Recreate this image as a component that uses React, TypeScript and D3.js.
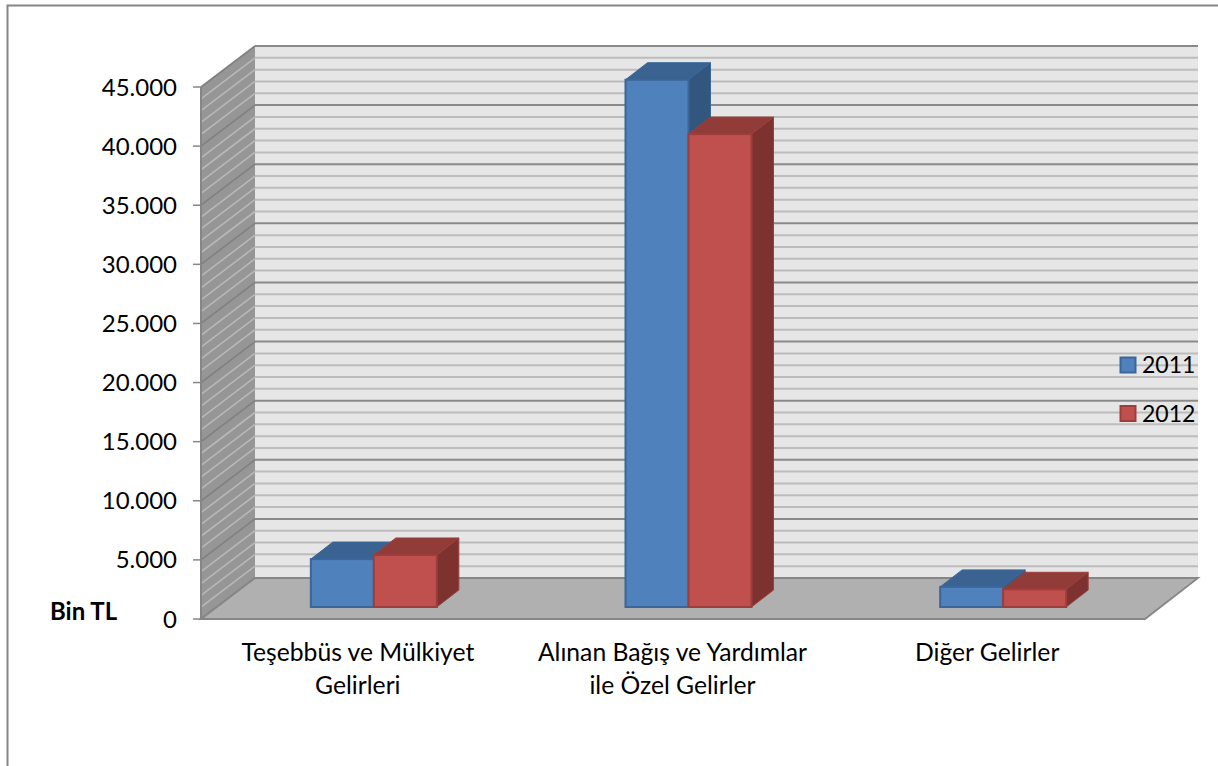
import React from "react";
import * as d3 from "d3";

const categories = ["Teşebbüs ve Mülkiyet|Gelirleri", "Alınan Bağış ve Yardımlar|ile Özel Gelirler", "Diğer Gelirler"];
const seriesNames = ["2011", "2012"];
const values2011 = [4050, 44600, 1700];
const values2012 = [4400, 40000, 1500];
const majorTicks = [0, 5000, 10000, 15000, 20000, 25000, 30000, 35000, 40000, 45000];
const minorTicks = d3.range(0, 45001, 1000);
const FONT = "Lato, 'Open Sans', sans-serif";

const frontLeft = 201, frontRight = 1145, frontBottom = 619, frontTop = 87;
const depthX = 54, depthY = 41;
const barInsetY = 12, barInsetX = 15.5, barDepthX = 22, barDepthY = 17;

const y = d3.scaleLinear().domain([0, 45000]).range([frontBottom, frontTop]);
const x = d3.scaleBand<number>().domain([0, 1, 2]).range([frontLeft, frontRight]);
const barW = 63;
const fmt = (v: number) => (v === 0 ? "0" : d3.format(",")(v).replace(/,/g, "."));
const pts = (p: number[][]) => p.map((q) => q.join(",")).join(" ");

const palette = [
  { front: "#4f81bd", top: "#3b6391", side: "#33567f", edge: "#3a6699" },
  { front: "#c0504d", top: "#923c39", side: "#7d3230", edge: "#9c3f3c" },
];

function Bar({ x0, v, c }: { x0: number; v: number; c: typeof palette[0] }) {
  const base = y(0) - barInsetY;
  const top = base - (y(0) - y(v));
  const x1 = x0 + barW;
  return (
    <g>
      <polygon points={pts([[x0, top], [x0 + barDepthX, top - barDepthY], [x1 + barDepthX, top - barDepthY], [x1, top]])} fill={c.top} stroke={c.edge} strokeWidth={1} strokeLinejoin="round" />
      <polygon points={pts([[x1, top], [x1 + barDepthX, top - barDepthY], [x1 + barDepthX, base - barDepthY], [x1, base]])} fill={c.side} stroke={c.edge} strokeWidth={1} strokeLinejoin="round" />
      <rect x={x0} y={top} width={barW} height={base - top} fill={c.front} stroke={c.edge} strokeWidth={2} />
    </g>
  );
}

export default function App() {
  const wallBack = frontLeft + depthX;
  const wallRight = frontRight + depthX - 1;
  return (
    <svg width={1218} height={766} style={{ position: "fixed", left: 0, top: 0, background: "#fff" }}>
      <path d="M7.5,766V5.5H1218" fill="none" stroke="#868686" strokeWidth={2} />
      <rect x={wallBack} y={y(45000) - depthY} width={wallRight - wallBack} height={y(0) - y(45000)} fill="#e6e6e6" />
      <polygon points={pts([[frontLeft, y(0)], [frontLeft, y(45000)], [wallBack, y(45000) - depthY], [wallBack, y(0) - depthY]])} fill="#969696" />
      {minorTicks.map((t) => {
        const major = t % 5000 === 0;
        return (
          <g key={t} stroke={major ? "#8a8a8a" : "#bcbcbc"} strokeWidth={2} fill="none">
            <line x1={wallBack} x2={wallRight} y1={y(t) - depthY} y2={y(t) - depthY} />
            <line x1={frontLeft} x2={wallBack} y1={y(t)} y2={y(t) - depthY} stroke={major ? "#808080" : "#b8b8b8"} strokeWidth={1.6} />
          </g>
        );
      })}
      <polygon points={pts([[frontLeft, y(0)], [wallBack, y(0) - depthY], [wallRight, y(0) - depthY], [frontRight, y(0)]])} fill="#b0b0b0" stroke="#868686" strokeWidth={1.8} />
      <line x1={frontLeft} x2={frontLeft} y1={y(0)} y2={y(45000)} stroke="#868686" strokeWidth={2} />
      {majorTicks.map((t) => (
        <g key={t}>
          <line x1={frontLeft - 8} x2={frontLeft} y1={y(t)} y2={y(t)} stroke="#868686" strokeWidth={1.5} />
          <text x={frontLeft - 24} y={y(t) + 8.5} textAnchor="end" fontFamily={FONT} fontSize={24} fill="#000">{fmt(t)}</text>
        </g>
      ))}
      {categories.map((_, i) => {
        const cx = x(i)! + x.bandwidth() / 2 + barInsetX;
        return (
          <g key={i}>
            <Bar x0={cx - barW} v={values2011[i]} c={palette[0]} />
            <Bar x0={cx} v={values2012[i]} c={palette[1]} />
          </g>
        );
      })}
      {categories.map((c, i) => {
        const cx = x(i)! + x.bandwidth() / 2 - 0.5;
        return c.split("|").map((line, j) => (
          <text key={j} x={cx} y={661 + j * 33} textAnchor="middle" fontFamily={FONT} fontSize={24.7} fill="#000">{line}</text>
        ));
      })}
      <text x={50} y={620} fontFamily={FONT} fontSize={24} fontWeight={700} fill="#000">Bin TL</text>
      {seriesNames.map((s, i) => (
        <g key={s}>
          <rect x={1120.5} y={357.5 + i * 48.5} width={15} height={15} fill={palette[i].front} stroke={palette[i].edge} strokeWidth={2} />
          <text x={1142} y={373 + i * 48.5} fontFamily={FONT} fontSize={23} fill="#000">{s}</text>
        </g>
      ))}
    </svg>
  );
}
